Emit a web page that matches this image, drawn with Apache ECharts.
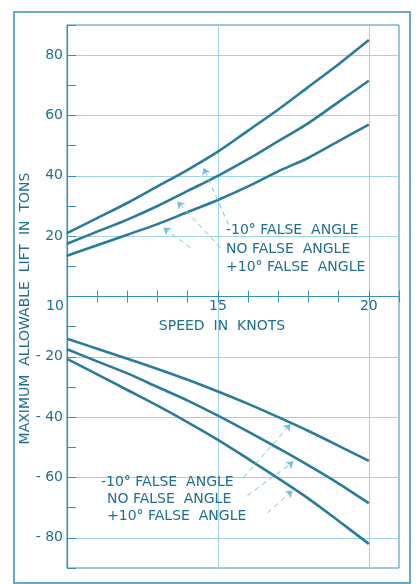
<!DOCTYPE html>
<html>
<head>
<meta charset="utf-8">
<script src="https://cdn.jsdelivr.net/npm/echarts@6/dist/echarts.min.js"></script>
<style>html,body{margin:0;padding:0;background:#fff}#c{width:416px;height:584px}</style>
</head>
<body>
<div id="c"></div>
<script>
// Speed in knots
const speeds = [10, 11, 12, 13, 14, 15, 16, 17, 18, 19, 20];
// Upper family (positive lift), tons
const upperMinus10 = [21, 26, 31, 36.5, 42, 48, 55, 62, 69.5, 77, 85];
const upperNone    = [17.5, 21.5, 25.5, 30, 35, 40, 45.5, 51.5, 57.5, 64.5, 71.5];
const upperPlus10  = [13.5, 17, 20.5, 24, 28, 32, 36.5, 41.5, 46, 51.5, 57];
// Lower family (negative lift), tons
const lowerMinus10 = [-14, -17.3, -20.6, -24, -27.6, -31.5, -35.6, -40, -44.6, -49.5, -54.5];
const lowerNone    = [-17.5, -21.5, -25.5, -30, -34.5, -39.5, -44.8, -50.3, -56, -62, -68.5];
const lowerPlus10  = [-20.7, -25.8, -31, -36.2, -41.7, -47.5, -53.8, -60.3, -67, -74.4, -82];
// Tick labels
const xTickLabels = [10, 15, 20];
const yTickLabels = [-80, -60, -40, -20, 20, 40, 60, 80];
// Annotation text and arrow anchors (data coordinates: [fromX, fromY, toX, toY])
const legendTexts = ['-10° FALSE  ANGLE', 'NO FALSE  ANGLE', '+10° FALSE  ANGLE'];
const upperArrows = [[15.35, 23.8, 14.52, 42.7], [15.08, 16.2, 13.65, 31.5], [14.09, 16.2, 13.19, 22.8]];
const lowerArrows = [[15.85, -60, 17.41, -42.3], [15.98, -66, 17.51, -54.7], [16.64, -71.7, 17.48, -64.3]];

const curveColor = '#2b7b9b';
const axisColor = '#3a8fb4';
const gridColor = '#9ed5e5';
const textColor = '#21708f';
const arrowColor = '#7cc0d8';
const T = 'rgba(0,0,0,0)';

const GRID_TOP = 25, GRID_BOTTOM = 16, H = 584;
// x axis drawn at y = 0: move it up from the grid bottom to the middle of the grid
const ZERO_OFFSET = -((H - GRID_BOTTOM) - (GRID_TOP + (H - GRID_TOP - GRID_BOTTOM) / 2));

const chart = echarts.init(document.getElementById('c'), null, {renderer: 'canvas'});

function pairs(ys) { return speeds.map((x, i) => [x, ys[i]]); }
function arrowLines(list) {
  return list.map(a => [{coord: [a[0], a[1]]}, {coord: [a[2], a[3]]}]);
}
function curve(ys, arrows) {
  const s = {
    type: 'line', data: pairs(ys), smooth: 0.3, showSymbol: false, silent: true,
    lineStyle: {color: curveColor, width: 2.6}, z: 3
  };
  if (arrows) {
    s.markLine = {
      silent: true, symbol: ['none', 'arrow'], symbolSize: 7,
      label: {show: false},
      lineStyle: {color: arrowColor, type: [5, 4], width: 1},
      data: arrowLines(arrows)
    };
  }
  return s;
}

const font = '14px "DejaVu Sans"';
const graphics = [
  {type: 'rect', shape: {x: 14, y: 12, width: 396, height: 571}, style: {fill: 'none', stroke: axisColor, lineWidth: 1.5}, silent: true}
];
const upperY = [230, 249, 267];
legendTexts.forEach((t, i) => graphics.push({type: 'text', x: 226, y: upperY[i], style: {text: t, font: font, fill: textColor, verticalAlign: 'middle'}, z: 10}));
const lowerY = [482, 499, 516];
const lowerX = [101, 107, 107];
legendTexts.forEach((t, i) => graphics.push({type: 'text', x: lowerX[i], y: lowerY[i], style: {text: t, font: font, fill: textColor, verticalAlign: 'middle'}, z: 10}));

chart.setOption({
  animation: false,
  backgroundColor: '#ffffff',
  grid: {left: 67, right: 17, top: GRID_TOP, bottom: GRID_BOTTOM, outerBoundsMode: 'none', containLabel: false,
         show: true, borderColor: axisColor, borderWidth: 1},
  xAxis: [
    {
      type: 'value', min: 10, max: 21, interval: 1, position: 'bottom', offset: ZERO_OFFSET,
      axisLine: {show: true, onZero: false, lineStyle: {color: axisColor, width: 1.2}},
      axisTick: {show: true, inside: true, length: 6, lineStyle: {color: axisColor}},
      axisLabel: {
        margin: 3, color: textColor, fontSize: 14, fontFamily: 'DejaVu Sans',
        formatter: v => xTickLabels.indexOf(v) >= 0 ? (v === 10 ? '{a|' + v + '}' : String(v)) : '',
        rich: {a: {padding: [0, 24, 0, 0], fontSize: 14, color: textColor}}
      },
      splitLine: {show: true, lineStyle: {color: [gridColor, T, T, T, T], width: 1}},
      name: 'SPEED  IN  KNOTS', nameLocation: 'middle', nameGap: 23,
      nameTextStyle: {color: textColor, fontSize: 14, fontFamily: 'DejaVu Sans', padding: [0, 22, 0, 0]}
    },
    {
      type: 'value', min: 10, max: 21, interval: 1, position: 'bottom', offset: ZERO_OFFSET,
      axisLine: {show: false, onZero: false},
      axisTick: {show: true, inside: false, length: 6, lineStyle: {color: axisColor}},
      axisLabel: {show: false}, splitLine: {show: false}
    }
  ],
  yAxis: {
    type: 'value', min: -90, max: 90, interval: 10,
    axisLine: {show: true, onZero: false, lineStyle: {color: axisColor, width: 1.2}},
    axisTick: {show: true, inside: true, length: 9, lineStyle: {color: axisColor}},
    axisLabel: {
      margin: 4, color: textColor, fontSize: 14, fontFamily: 'DejaVu Sans',
      formatter: v => yTickLabels.indexOf(v) >= 0 ? (v < 0 ? '- ' + (-v) : String(v)) : ''
    },
    splitLine: {show: true, lineStyle: {color: [T, gridColor], width: 1}},
    name: 'MAXIMUM  ALLOWABLE  LIFT  IN  TONS', nameLocation: 'middle', nameGap: 35, nameMoveOverlap: false,
    nameTextStyle: {color: textColor, fontSize: 14, fontFamily: 'DejaVu Sans', padding: [0, 24, 0, 0]}
  },
  graphic: graphics,
  series: [
    curve(upperMinus10, upperArrows),
    curve(upperNone),
    curve(upperPlus10),
    curve(lowerMinus10, lowerArrows),
    curve(lowerNone),
    curve(lowerPlus10)
  ]
});
</script>
</body>
</html>
